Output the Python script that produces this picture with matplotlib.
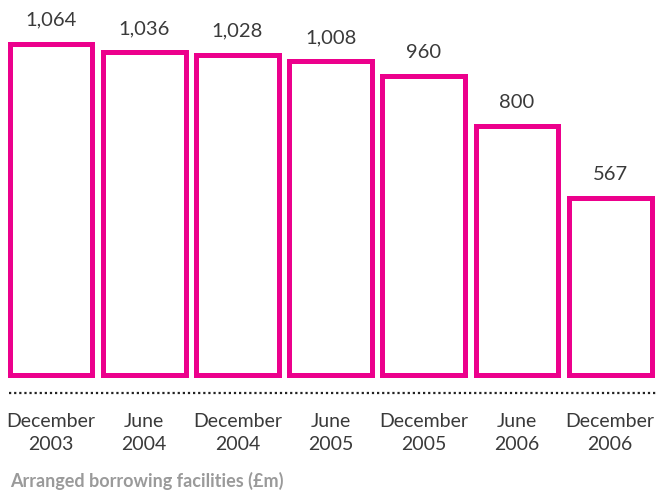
import matplotlib
matplotlib.use("Agg")
import matplotlib.pyplot as plt
from matplotlib.lines import Line2D

plt.rcParams['font.family'] = ['Lato', 'DejaVu Sans']

# data
periods = ['December\n2003', 'June\n2004', 'December\n2004', 'June\n2005',
           'December\n2005', 'June\n2006', 'December\n2006']
facilities = [1064, 1036, 1028, 1008, 960, 800, 567]
value_labels = ['1,064', '1,036', '1,028', '1,008', '960', '800', '567']

magenta = '#EC008C'
text_col = '#3a3a3a'

fig = plt.figure(figsize=(6.56, 4.91), dpi=100)
ax = fig.add_axes([0, (491 - 374.5) / 491, 1, 374.5 / 491])

x = list(range(len(facilities)))
bars = ax.bar(x, facilities, width=0.89, facecolor='white', edgecolor=magenta,
              linewidth=3.6, clip_on=False)
for b in bars:
    b.set_joinstyle('miter')

for xi, v, lab in zip(x, facilities, value_labels):
    ax.annotate(lab, (xi, v), xytext=(0, 17), textcoords='offset points',
                ha='center', va='center', fontsize=14.5,
                color=text_col)

ax.set_xlim(-51 / 93.2, (656 - 51) / 93.2)
ax.set_ylim(0, 374.5 / 0.311)
ax.axis('off')

# category labels under the dotted line
for xi, p in zip(x, periods):
    ax.annotate(p, (xi, 0), xytext=(0, -42), textcoords='offset points',
                ha='center', va='center', fontsize=14,
                color=text_col, linespacing=1.45, annotation_clip=False)

# dotted baseline
fig.add_artist(Line2D([9 / 656, 1], [1 - 393 / 491, 1 - 393 / 491],
                      color='#222222', linewidth=1.6,
                      linestyle=(0, (1, 1.3))))

fig.text(10 / 656, 1 - 481 / 491, 'Arranged borrowing facilities (£m)',
         ha='left', va='center', fontsize=13, fontweight='bold',
         color='#9a9a9a')

fig.savefig('out.png', dpi=100)
